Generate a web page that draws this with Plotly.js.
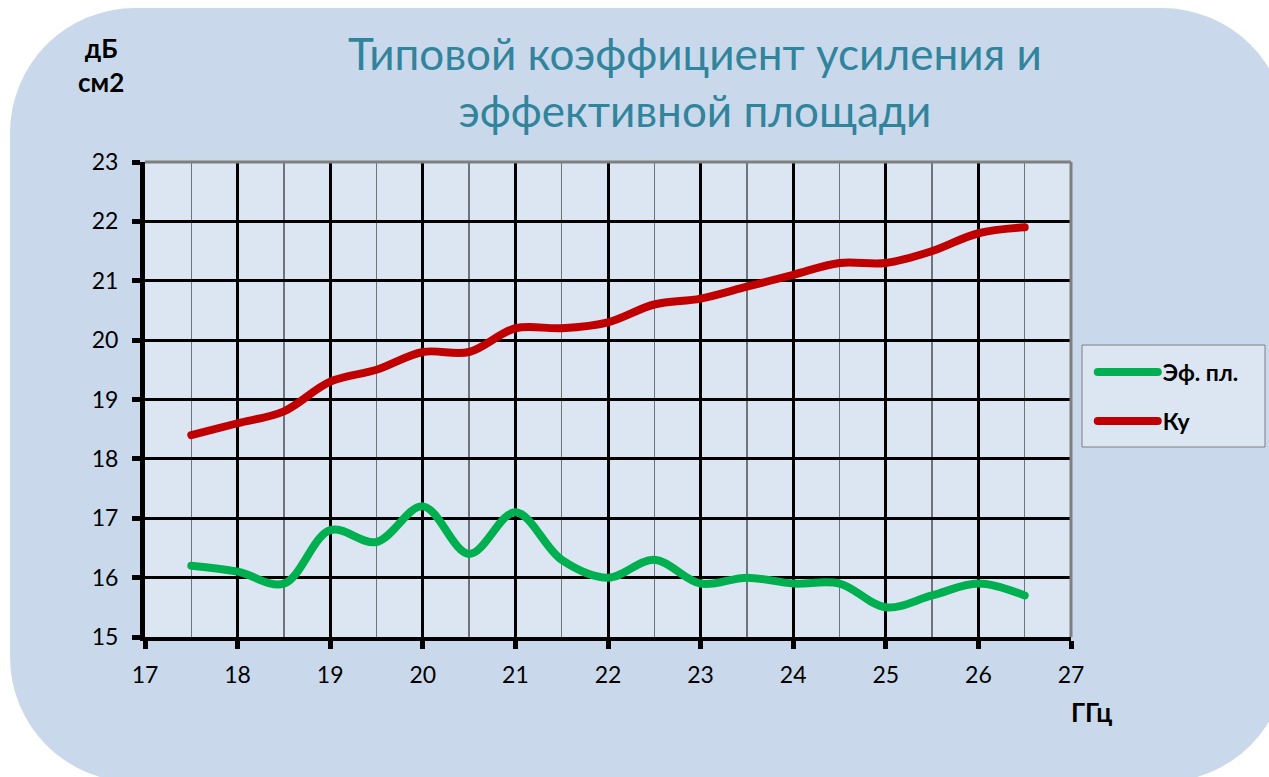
<!DOCTYPE html>
<html>
<head>
<meta charset="utf-8">
<script src="https://cdn.plot.ly/plotly-3.0.1.min.js"></script>
<style>
  html, body { margin:0; padding:0; background:#ffffff; overflow:hidden; }
  #bg { position:absolute; left:10px; top:8px; width:1277px; height:774px; background:#c9d9eb; border-radius:125px; }
  #chart { position:absolute; left:0; top:0; width:1269px; height:777px; }
  .scatterlayer path.js-line, .legendlines path { stroke-linecap: round !important; }
</style>
</head>
<body>
<div id="bg"></div>
<div id="chart"></div>
<script>
const freq = [17.5, 18, 18.5, 19, 19.5, 20, 20.5, 21, 21.5, 22, 22.5, 23, 23.5, 24, 24.5, 25, 25.5, 26, 26.5];
const effArea = [16.2, 16.1, 15.9, 16.8, 16.6, 17.2, 16.4, 17.1, 16.3, 16.0, 16.3, 15.9, 16.0, 15.9, 15.9, 15.5, 15.7, 15.9, 15.7];
const gain = [18.4, 18.6, 18.8, 19.3, 19.5, 19.8, 19.8, 20.2, 20.2, 20.3, 20.6, 20.7, 20.9, 21.1, 21.3, 21.3, 21.5, 21.8, 21.9];
const names = ['Эф. пл.', 'Ку'];
const titleText = 'Типовой коэффициент усиления и<br>эффективной площади';
const yUnit = 'дБ<br>см2';
const xUnit = 'ГГц';

const font = 'Lato, "Open Sans", sans-serif';

const traces = [
  {x: freq, y: effArea, name: names[0], mode: 'lines', legendgroup: 'a',
   line: {color: '#00b050', width: 8, shape: 'spline', smoothing: 1}},
  {x: freq, y: gain, name: names[1], mode: 'lines', legendgroup: 'b',
   line: {color: '#c00000', width: 8, shape: 'spline', smoothing: 1}}
];

const layout = {
  width: 1269, height: 777,
  paper_bgcolor: 'rgba(0,0,0,0)',
  plot_bgcolor: '#dce6f2',
  margin: {l: 145, r: 198, t: 162, b: 140},
  font: {family: font, color: '#000', size: 23},
  xaxis: {range: [17, 27], dtick: 1, tick0: 17, showgrid: true, gridcolor: '#000', gridwidth: 3,
          showline: true, linecolor: '#000', linewidth: 4, ticks: 'outside', ticklen: 8, tickwidth: 5,
          tickcolor: '#000', zeroline: false, ticklabelstandoff: 6,
          minor: {dtick: 0.5, showgrid: true, gridcolor: '#6e747c', gridwidth: 1.5, ticks: ''},
          tickfont: {size: 23}},
  yaxis: {range: [15, 23], dtick: 1, tick0: 15, showgrid: true, gridcolor: '#000', gridwidth: 3,
          showline: true, linecolor: '#000', linewidth: 5, ticks: 'outside', ticklen: 8, tickwidth: 5,
          tickcolor: '#000', zeroline: false, ticklabelstandoff: 9,
          tickfont: {size: 23}},
  legend: {x: 1.0235, y: 0.603, xanchor: 'left', yanchor: 'top', bgcolor: 'rgba(0,0,0,0)',
           borderwidth: 0, tracegroupgap: 16, itemwidth: 60,
           font: {size: 23, family: font, weight: 'bold'}},
  showlegend: true,
  shapes: [
    {type: 'rect', xref: 'paper', yref: 'paper', x0: 1.0119, x1: 1.2095, y0: 0.4, y1: 0.6147,
     fillcolor: '#dce6f2', line: {color: '#7f7f7f', width: 1}, layer: 'below'},
    {type: 'line', xref: 'paper', yref: 'paper', x0: 0, x1: 1, y0: 1, y1: 1, layer: 'above',
     line: {color: '#7f7f7f', width: 3}},
    {type: 'line', xref: 'paper', yref: 'paper', x0: 1, x1: 1, y0: 0, y1: 1, layer: 'above',
     line: {color: '#7f7f7f', width: 3}}
  ],
  annotations: [
    {text: titleText, xref: 'paper', yref: 'paper', x: 0.5935, y: 1.17, xanchor: 'center', yanchor: 'middle',
     showarrow: false, align: 'center', font: {size: 44, family: font, color: '#31849b'}},
    {text: yUnit, xref: 'paper', yref: 'paper', x: -0.048, y: 1.204, xanchor: 'center', yanchor: 'middle',
     showarrow: false, align: 'center', font: {size: 26, weight: 'bold', family: font}},
    {text: xUnit, xref: 'paper', yref: 'paper', x: 1.0216, y: -0.158, xanchor: 'center', yanchor: 'middle',
     showarrow: false, font: {size: 26, weight: 'bold', family: font}}
  ]
};

Plotly.newPlot('chart', traces, layout, {displayModeBar: false, staticPlot: true});
</script>
</body>
</html>
